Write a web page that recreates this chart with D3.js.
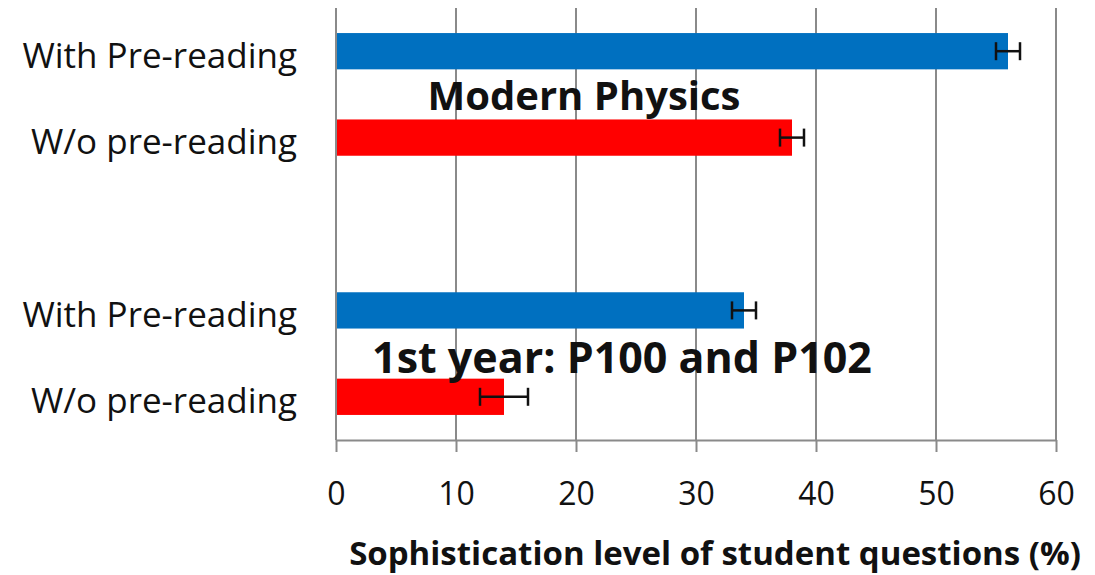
<!DOCTYPE html>
<html>
<head>
<meta charset="utf-8">
<script src="https://cdn.jsdelivr.net/npm/d3@7"></script>
<style>
  body { margin: 0; background: #fff; }
  text { font-family: "Open Sans", "Noto Sans", sans-serif; fill: #111; }
</style>
</head>
<body>
<svg width="1095" height="575"></svg>
<script>
// rows from top to bottom, "gap" is the empty row between the two courses
var categories = ["mp_with", "mp_wo", "gap", "fy_with", "fy_wo"];
var rowLabels = ["With Pre-reading", "W/o pre-reading", "", "With Pre-reading", "W/o pre-reading"];
var values = [56, 38, null, 34, 14];
var errors = [1, 1, null, 1, 2];
var colors = ["#0070c0", "#ff0000", null, "#0070c0", "#ff0000"];
var xTicks = [0, 10, 20, 30, 40, 50, 60];

var svg = d3.select("svg");
var plotL = 336, plotR = 1056, plotT = 8, plotB = 440;

var x = d3.scaleLinear().domain([0, 60]).range([plotL, plotR]);
var y = d3.scaleBand().domain(categories).range([plotT, plotB]).paddingInner(0.58).paddingOuter(0.29);

// gridlines
svg.append("g").selectAll("line")
    .data(xTicks.slice(1))
    .enter().append("line")
    .attr("x1", d => x(d)).attr("x2", d => x(d))
    .attr("y1", plotT).attr("y2", plotB)
    .attr("stroke", "#8a8a8a").attr("stroke-width", 2);

// bars
var rows = categories.map((c, i) => ({c: c, v: values[i], e: errors[i], col: colors[i], lab: rowLabels[i]}));
var bars = rows.filter(d => d.v != null);

svg.append("g").selectAll("rect")
    .data(bars)
    .enter().append("rect")
    .attr("x", x(0))
    .attr("y", d => y(d.c))
    .attr("width", d => x(d.v) - x(0))
    .attr("height", y.bandwidth())
    .attr("fill", d => d.col);

// error bars
var eb = svg.append("g").attr("stroke", "#111").attr("stroke-width", 2.5);
bars.forEach(function(d) {
    var cy = y(d.c) + y.bandwidth() / 2;
    eb.append("line").attr("x1", x(d.v - d.e)).attr("x2", x(d.v + d.e)).attr("y1", cy).attr("y2", cy);
    eb.append("line").attr("x1", x(d.v - d.e)).attr("x2", x(d.v - d.e)).attr("y1", cy - 9).attr("y2", cy + 9);
    eb.append("line").attr("x1", x(d.v + d.e)).attr("x2", x(d.v + d.e)).attr("y1", cy - 9).attr("y2", cy + 9);
});

// vertical axis line
svg.append("line").attr("x1", plotL).attr("x2", plotL).attr("y1", plotT).attr("y2", plotB)
    .attr("stroke", "#8a8a8a").attr("stroke-width", 2);

var xAxis = d3.axisBottom(x).tickValues(xTicks).tickSize(12).tickPadding(30).tickSizeOuter(0);
var ax = svg.append("g").attr("transform", "translate(0," + plotB + ")").call(xAxis);
ax.select(".domain").attr("stroke", "#8a8a8a").attr("stroke-width", 2);
ax.selectAll(".tick line").attr("stroke", "#8a8a8a").attr("stroke-width", 2);
ax.selectAll(".tick text").attr("font-size", 32).attr("fill", "#111")
    .attr("font-family", "'Open Sans', sans-serif");

// row labels
svg.append("g").selectAll("text")
    .data(rows.filter(d => d.lab))
    .enter().append("text")
    .attr("x", 297)
    .attr("y", d => y(d.c) + y.bandwidth() / 2)
    .attr("dy", "0.47em")
    .attr("text-anchor", "end")
    .attr("font-size", 35)
    .text(d => d.lab);

// group titles
svg.append("text").attr("x", 584).attr("y", 110).attr("text-anchor", "middle")
    .attr("font-size", 40).attr("font-weight", "bold").text("Modern Physics");
svg.append("text").attr("x", 622).attr("y", 373).attr("text-anchor", "middle")
    .attr("font-size", 43).attr("font-weight", "bold").text("1st year: P100 and P102");

// x axis title
svg.append("text").attr("x", 715).attr("y", 565).attr("text-anchor", "middle")
    .attr("font-size", 33).attr("font-weight", "bold")
    .text("Sophistication level of student questions (%)");
</script>
</body>
</html>
